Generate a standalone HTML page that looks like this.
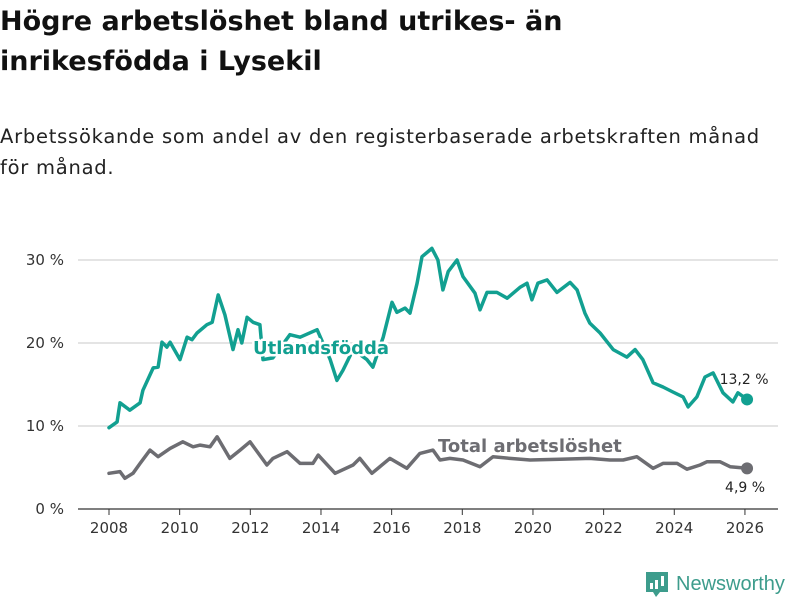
<!DOCTYPE html>
<html><head><meta charset="utf-8"><style>
body{margin:0;background:#fff;font-family:"DejaVu Sans","Liberation Sans",sans-serif;}
#wrap{position:relative;width:800px;height:600px;overflow:hidden;}
h1{position:absolute;left:0;top:2px;margin:0;font-size:27px;line-height:40px;font-weight:bold;color:#111;width:650px;}
.sub{position:absolute;left:0;top:121px;margin:0;font-size:19.5px;line-height:31px;color:#222;width:786px;letter-spacing:0.75px;}
svg{position:absolute;left:0;top:0;}
</style></head><body><div id="wrap">
<h1>Högre arbetslöshet bland utrikes- än inrikesfödda i Lysekil</h1>
<p class="sub">Arbetssökande som andel av den registerbaserade arbetskraften månad för månad.</p>
<svg id="chart" width="800" height="600"></svg>
</div>
<script>
const foreignYears=[2008.0,2008.23,2008.31,2008.59,2008.88,2008.96,2009.25,2009.39,2009.5,2009.64,2009.73,2010.01,2010.21,2010.35,2010.49,2010.77,2010.92,2011.09,2011.28,2011.51,2011.65,2011.76,2011.91,2012.08,2012.27,2012.36,2012.64,2013.12,2013.41,2013.89,2014.26,2014.45,2014.62,2014.91,2015.3,2015.47,2015.76,2016.01,2016.15,2016.38,2016.52,2016.72,2016.86,2017.14,2017.31,2017.45,2017.6,2017.85,2018.02,2018.36,2018.5,2018.7,2018.98,2019.27,2019.63,2019.83,2019.97,2020.14,2020.4,2020.68,2021.05,2021.25,2021.47,2021.61,2021.9,2022.27,2022.66,2022.89,2023.11,2023.4,2023.68,2023.96,2024.25,2024.39,2024.64,2024.87,2025.1,2025.38,2025.66,2025.8,2026.06];
const foreignValues=[9.8,10.5,12.8,11.9,12.8,14.3,17.0,17.1,20.1,19.5,20.1,18.0,20.7,20.4,21.2,22.2,22.5,25.8,23.4,19.2,21.6,20.0,23.1,22.5,22.2,18.0,18.2,21.0,20.7,21.6,18.0,15.5,16.7,19.2,18.0,17.1,20.7,24.9,23.7,24.2,23.6,27.2,30.4,31.4,30.0,26.4,28.6,30.0,28.0,26.0,24.0,26.1,26.1,25.4,26.7,27.2,25.2,27.2,27.6,26.1,27.3,26.4,23.6,22.4,21.2,19.2,18.3,19.2,18.0,15.2,14.7,14.1,13.5,12.3,13.5,15.9,16.4,14.0,12.9,14.0,13.2];
const totalYears=[2008.0,2008.31,2008.45,2008.68,2008.88,2009.16,2009.39,2009.73,2010.09,2010.38,2010.58,2010.86,2011.06,2011.42,2011.71,2011.99,2012.47,2012.64,2013.04,2013.41,2013.77,2013.92,2014.4,2014.91,2015.1,2015.44,2015.95,2016.43,2016.8,2017.17,2017.37,2017.65,2018.02,2018.5,2018.87,2019.35,2019.92,2020.76,2021.61,2022.18,2022.55,2022.94,2023.4,2023.68,2024.08,2024.36,2024.73,2024.93,2025.29,2025.58,2026.06];
const totalValues=[4.3,4.5,3.7,4.3,5.5,7.1,6.3,7.3,8.1,7.5,7.7,7.5,8.7,6.1,7.1,8.1,5.3,6.1,6.9,5.5,5.5,6.5,4.3,5.3,6.1,4.3,6.1,4.9,6.7,7.1,5.9,6.1,5.9,5.1,6.3,6.1,5.9,6.0,6.1,5.9,5.9,6.3,4.9,5.5,5.5,4.8,5.3,5.7,5.7,5.1,4.9];
const yTicks=[0,10,20,30];
const xTicks=[2008,2010,2012,2014,2016,2018,2020,2022,2024,2026];
const NS='http://www.w3.org/2000/svg';
const svg=document.getElementById('chart');
const x=v=>109+(v-2008)*35.33;
const y=v=>509-v*8.3;
function mk(tag,attrs,parent){const e=document.createElementNS(NS,tag);for(const k in attrs)e.setAttribute(k,attrs[k]);(parent||svg).appendChild(e);return e;}
yTicks.forEach(t=>{
  const g=mk('line',{x1:78,x2:778,y1:y(t),y2:y(t),stroke:t===0?'#333':'#dcdcdc','stroke-width':t===0?1.2:1.5});
  
  
  const tx=mk('text',{x:64,y:y(t)+5,'text-anchor':'end','font-size':15,fill:'#333','font-family':'DejaVu Sans, sans-serif'});
  tx.textContent=t+' %';
  
  
});
xTicks.forEach(t=>{
  const l=mk('line',{x1:x(t),x2:x(t),y1:509,y2:515,stroke:'#333','stroke-width':1});
  
  
  const tx=mk('text',{x:x(t),y:533,'text-anchor':'middle','font-size':15,fill:'#333','font-family':'DejaVu Sans, sans-serif'});
  tx.textContent=t;
  
  
});
function series(xs,vs,color,name){
  const d=xs.map((v,i)=>(i?'L':'M')+x(v).toFixed(1)+','+y(vs[i]).toFixed(1)).join('');
  const p=mk('path',{d:d,fill:'none',stroke:color,'stroke-width':3.5,'stroke-linejoin':'round','stroke-linecap':'round'});
  
  
  const n=xs.length-1;
  const c=mk('circle',{cx:x(xs[n]),cy:y(vs[n]),r:6,fill:color});
  
  
}
series(totalYears,totalValues,'#6d6d72','total');
series(foreignYears,foreignValues,'#12a091','foreign');
function label(txt,xx,yy,color,size,bold,name,anchor){
  const t=mk('text',{x:xx,y:yy,fill:color,'font-size':size,'font-weight':bold?'bold':'normal',stroke:'#fff','stroke-width':bold?5:0,'paint-order':'stroke','stroke-linejoin':'round','text-anchor':anchor||'start','font-family':'DejaVu Sans, sans-serif'});
  t.textContent=txt;
  
  
}
label('Utlandsfödda',253,354,'#12a091',18,true,'foreign-series-label');
label('Total arbetslöshet',438,452,'#6d6d72',18,true,'total-series-label');
label('13,2 %',x(foreignYears[foreignYears.length-1])-3,384,'#222',14,false,'foreign-last-value','middle');
label('4,9 %',x(totalYears[totalYears.length-1])-2,492,'#222',14,false,'total-last-value','middle');
const lg=mk('g',{});


mk('path',{d:'M646,572 h22 v20 h-8 l-4,5 l-3,-5 h-7 z',fill:'#3d9c8c'},lg);
mk('rect',{x:650,y:583,width:3,height:6,fill:'#fff'},lg);
mk('rect',{x:655,y:580,width:3,height:9,fill:'#fff'},lg);
mk('rect',{x:661,y:576,width:3,height:10,fill:'#fff'},lg);
const lt=mk('text',{x:676,y:590,fill:'#3d9c8c','font-size':20,'font-family':'Liberation Sans, sans-serif'},lg);
lt.textContent='Newsworthy';
</script></body></html>
